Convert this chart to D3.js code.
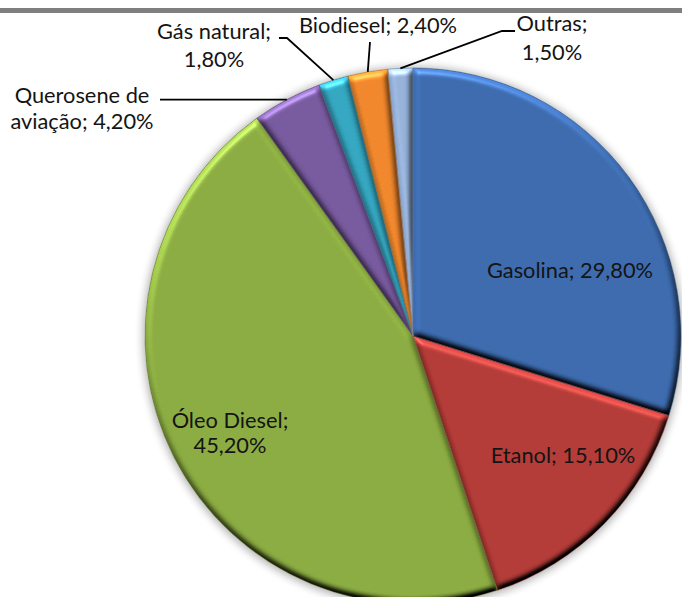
<!DOCTYPE html>
<html>
<head>
<meta charset="utf-8">
<script src="https://cdn.jsdelivr.net/npm/d3@7"></script>
<style>
  html, body { margin: 0; padding: 0; background: #ffffff; }
  svg { display: block; }
</style>
</head>
<body>
<svg id="chart" width="682" height="597"></svg>
<script>
// ---- data ----
const categories = ["Gasolina", "Etanol", "Óleo Diesel", "Querosene de aviação", "Gás natural", "Biodiesel", "Outras"];
const values = [29.8, 15.1, 45.2, 4.2, 1.8, 2.4, 1.5];
const labelTexts = [
  ["Gasolina; 29,80%"],
  ["Etanol; 15,10%"],
  ["Óleo Diesel;", "45,20%"],
  ["Querosene de", "aviação; 4,20%"],
  ["Gás natural;", "1,80%"],
  ["Biodiesel; 2,40%"],
  ["Outras;", "1,50%"]
];

// ---- styles / layout ----
const colors = ["#3d6db2", "#b83c38", "#8eb042", "#7a5ba2", "#35abc6", "#f78a2c", "#9ab6df"];
const W = 682, H = 597;
const cx = 413, cy = 336, R = 268;
const labelLayout = [
  { x: 570, ys: [278] },
  { x: 563, ys: [463] },
  { x: 230, ys: [428, 453] },
  { x: 82,  ys: [103, 129] },
  { x: 214, ys: [39, 67] },
  { x: 378, ys: [33] },
  { x: 552, ys: [31, 60] }
];
// leader line extra points (after the point on the arc), null = no leader
const leaders = [
  null, null, null,
  [[160, null]],
  [[287, 38], [279, 38]],
  [[370, 42]],
  [[502, 31], [515, 31]]
];

const svg = d3.select("#chart");
const defs = svg.append("defs");

// bevel filter
const f = defs.append("filter").attr("id", "bevel")
  .attr("color-interpolation-filters", "sRGB")
  .attr("x", "-10%").attr("y", "-10%").attr("width", "120%").attr("height", "120%");
f.append("feGaussianBlur").attr("in", "SourceAlpha").attr("stdDeviation", 3).attr("result", "blur");
const dl = f.append("feDiffuseLighting").attr("in", "blur").attr("surfaceScale", 4)
  .attr("diffuseConstant", 1.2).attr("lighting-color", "#ffffff").attr("result", "diff");
dl.append("feDistantLight").attr("azimuth", 250).attr("elevation", 40);
const sl = f.append("feSpecularLighting").attr("in", "blur").attr("surfaceScale", 4)
  .attr("specularConstant", 0.7).attr("specularExponent", 30).attr("lighting-color", "#ffffff").attr("result", "spec");
sl.append("feDistantLight").attr("azimuth", 250).attr("elevation", 40);
f.append("feComposite").attr("in", "SourceGraphic").attr("in2", "diff")
  .attr("operator", "arithmetic").attr("k1", 1.25).attr("k2", 0).attr("k3", 0).attr("k4", 0).attr("result", "shaded");
f.append("feComposite").attr("in", "spec").attr("in2", "SourceAlpha").attr("operator", "in").attr("result", "specIn");
f.append("feComposite").attr("in", "shaded").attr("in2", "specIn")
  .attr("operator", "arithmetic").attr("k1", 0).attr("k2", 1).attr("k3", 0.28).attr("k4", 0).attr("result", "lit");
f.append("feComposite").attr("in", "lit").attr("in2", "SourceAlpha").attr("operator", "in");

// shadow filter
const sf = defs.append("filter").attr("id", "shadow")
  .attr("x", "-20%").attr("y", "-20%").attr("width", "140%").attr("height", "140%");
sf.append("feGaussianBlur").attr("stdDeviation", 4);

// top gray bar
svg.append("rect").attr("x", 0).attr("y", 8).attr("width", W).attr("height", 5).attr("fill", "#7f7f7f");

const pie = d3.pie().sort(null).value(d => d).startAngle(0).endAngle(2 * Math.PI);
const arcs = pie(values);
const arc = d3.arc().innerRadius(0).outerRadius(R);

const g = svg.append("g").attr("transform", `translate(${cx},${cy})`);

// soft shadow
g.append("circle").attr("r", R + 2).attr("cx", 0).attr("cy", 1)
  .attr("fill", "#000").attr("opacity", 0.3).attr("filter", "url(#shadow)");

g.selectAll("path.slice")
  .data(arcs)
  .join("path")
  .attr("class", "slice")
  .attr("d", arc)
  .attr("fill", (d, i) => colors[i])
  .attr("filter", "url(#bevel)");

g.selectAll("path.edge")
  .data(arcs)
  .join("path")
  .attr("class", "edge")
  .attr("d", arc)
  .attr("fill", "none")
  .attr("stroke", (d, i) => d3.color(colors[i]).darker(0.8))
  .attr("stroke-width", 0.8)
  .attr("stroke-opacity", 0.7);

// leader lines
arcs.forEach((d, i) => {
  if (!leaders[i]) return;
  const mid = (d.startAngle + d.endAngle) / 2;
  const p0 = [cx + R * Math.sin(mid), cy - R * Math.cos(mid)];
  const pts = [p0].concat(leaders[i].map(p => [p[0], p[1] === null ? p0[1] : p[1]]));
  svg.append("path")
    .attr("d", d3.line()(pts))
    .attr("fill", "none")
    .attr("stroke", "#000")
    .attr("stroke-width", 1.8);
});

// labels
labelTexts.forEach((lines, i) => {
  const L = labelLayout[i];
  lines.forEach((t, j) => {
    svg.append("text")
      .attr("x", L.x).attr("y", L.ys[j])
      .attr("text-anchor", "middle")
      .attr("font-family", "Lato, 'Open Sans', sans-serif")
      .attr("font-size", "21.8px")
      .attr("fill", "#141414")
      .text(t);
  });
});
</script>
</body>
</html>
